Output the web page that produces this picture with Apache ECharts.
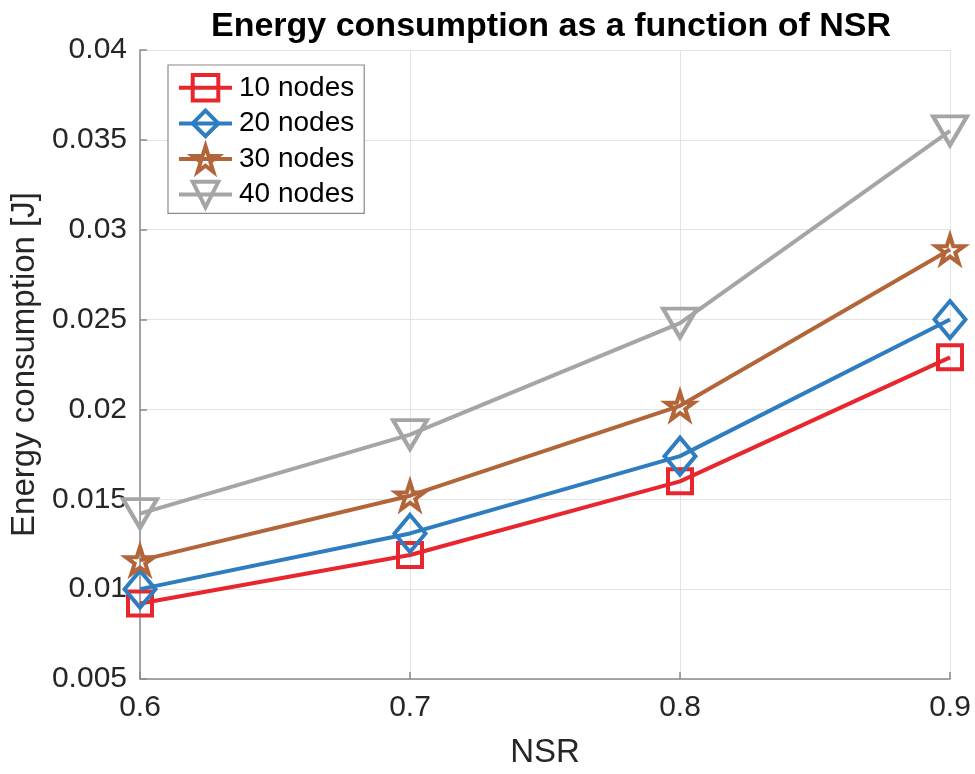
<!DOCTYPE html>
<html>
<head>
<meta charset="utf-8">
<script src="https://cdn.jsdelivr.net/npm/echarts@6/dist/echarts.min.js"></script>
<style>html,body{margin:0;padding:0;background:#fff;}#c{width:975px;height:774px;}</style>
</head>
<body>
<div id="c"></div>
<script>
const nsr = [0.6, 0.7, 0.8, 0.9];
const nodes10 = [0.0092, 0.0119, 0.0160, 0.0229];
const nodes20 = [0.0100, 0.0131, 0.0174, 0.0250];
const nodes30 = [0.0116, 0.0152, 0.0202, 0.0289];
const nodes40 = [0.0142, 0.0186, 0.0248, 0.0355];
const seriesNames = ['10 nodes', '20 nodes', '30 nodes', '40 nodes'];
const titleText = 'Energy consumption as a function of NSR';
const xName = 'NSR';
const yName = 'Energy consumption [J]';

const FONT = '"Liberation Sans", Arial, Helvetica, sans-serif';
const colors = ['#e8262d', '#2d7dc0', '#b3653a', '#a5a5a5'];
const starPath = 'path://M50 0L61.17 34.63L97.55 34.55L68.07 55.87L79.39 90.45L50 69L20.61 90.45L31.93 55.87L2.45 34.55L38.83 34.63Z';
const symbols = ['rect', 'diamond', starPath, 'triangle'];
const sizes = [24, [31, 37], [28, 27], [34, 29]];
const rotates = [0, 0, 0, 180];
const allData = [nodes10, nodes20, nodes30, nodes40];

const series = allData.map((vals, i) => ({
  name: seriesNames[i],
  type: 'line',
  data: nsr.map((x, j) => [x, vals[j]]),
  symbol: symbols[i],
  symbolSize: sizes[i],
  symbolRotate: rotates[i],
  showAllSymbol: true,
  lineStyle: { color: colors[i], width: 4 },
  itemStyle: { color: 'rgba(0,0,0,0)', borderColor: colors[i], borderWidth: 4 },
  emphasis: { disabled: true },
  z: 2 + i
}));

const chart = echarts.init(document.getElementById('c'), null, { renderer: 'canvas' });
chart.setOption({
  animation: false,
  backgroundColor: '#fff',
  title: {
    text: titleText,
    left: 546, top: 5,
    textAlign: 'center',
    textStyle: { fontFamily: FONT, fontWeight: 'bold', fontSize: 34, color: '#000' }
  },
  grid: { left: 140, right: 25, top: 50, bottom: 91, containLabel: false },
  legend: {
    orient: 'vertical',
    left: 168, top: 65,
    padding: [8, 10, 4, 9],
    itemWidth: 53, itemHeight: 32, itemGap: 6,
    borderColor: '#8a8a8a', borderWidth: 1.2,
    backgroundColor: '#fff',
    lineStyle: { width: 4 },
    itemStyle: { borderWidth: 4 },
    textStyle: { fontFamily: FONT, fontSize: 28, color: '#000', padding: [0, 0, 0, 2] },
    data: seriesNames
  },
  xAxis: {
    type: 'value',
    min: 0.6, max: 0.9, interval: 0.1,
    name: xName, nameLocation: 'middle', nameGap: 57,
    nameTextStyle: { fontFamily: FONT, fontSize: 33, color: '#262626' },
    axisLine: { show: true, onZero: false, lineStyle: { color: '#8a8a8a', width: 1.5 } },
    axisTick: { show: true, inside: true, length: 7, lineStyle: { color: '#8a8a8a', width: 1.5 } },
    axisLabel: { fontFamily: FONT, fontSize: 30, color: '#262626', margin: 14,
      formatter: v => v.toFixed(1) },
    splitLine: { show: true, lineStyle: { color: '#e3e3e3', width: 1 } }
  },
  yAxis: {
    type: 'value',
    min: 0.005, max: 0.04, interval: 0.005,
    name: yName, nameLocation: 'middle', nameGap: 94,
    nameTextStyle: { fontFamily: FONT, fontSize: 33, color: '#262626' },
    axisLine: { show: true, lineStyle: { color: '#8a8a8a', width: 1.5 } },
    axisTick: { show: true, inside: true, length: 7, lineStyle: { color: '#8a8a8a', width: 1.5 } },
    axisLabel: { fontFamily: FONT, fontSize: 30, color: '#262626', margin: 13,
      formatter: v => String(parseFloat(v.toFixed(4))) },
    splitLine: { show: true, lineStyle: { color: '#e3e3e3', width: 1 } }
  },
  series: series
});
</script>
</body>
</html>
